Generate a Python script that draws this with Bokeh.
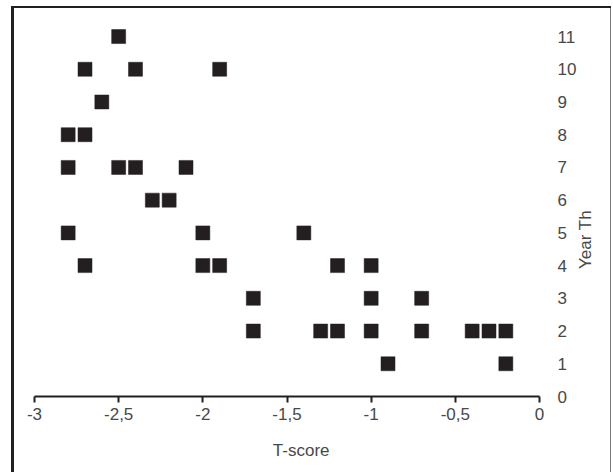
import math
from bokeh.plotting import figure
from bokeh.models import FixedTicker
from bokeh.embed import file_html
from bokeh.resources import INLINE

# Data
t_score = [-2.5, -2.7, -2.4, -1.9, -2.6, -2.8, -2.7, -2.8, -2.5, -2.4, -2.1,
           -2.3, -2.2, -2.8, -2.0, -1.4,
           -2.7, -2.0, -1.9, -1.7, -1.7,
           -1.2, -1.0, -1.0, -0.7, -1.3, -1.2, -1.0, -0.7, -0.4, -0.3, -0.2,
           -0.9, -0.2]
year_th = [11, 10, 10, 10, 9, 8, 8, 7, 7, 7, 7,
           6, 6, 5, 5, 5,
           4, 4, 4, 3, 2,
           4, 4, 3, 3, 2, 2, 2, 2, 2, 2, 2,
           1, 1]

x_ticks = [-3, -2.5, -2, -1.5, -1, -0.5, 0]
x_tick_labels = ["-3", "-2,5", "-2", "-1,5", "-1", "-0,5", "0"]
y_ticks = list(range(0, 12))
x_title = "T-score"
y_title = "Year Th"

FONT = "Liberation Sans"
TXT = "#484848"
INK = "#231f20"
NB = "\u00a0"

p = figure(width=611, height=472, output_backend="svg", toolbar_location=None,
           x_range=(-3, 0), y_range=(0, 11.49), y_axis_location="right",
           min_border_left=34, min_border_right=72, min_border_top=20,
           min_border_bottom=76,
           styles={"box-shadow": "inset 11px 0 0 0 #ffffff, inset 0 6px 0 0 #ffffff, "
                                 "inset 14px 0 0 0 #231f20, inset 0 8px 0 0 #231f20, "
                                 "inset -1px 0 0 0 #777777"})
p.border_fill_color = None
p.background_fill_color = None
p.outline_line_color = None
p.grid.visible = False

p.scatter(t_score, year_th, marker="square", size=14, fill_color=INK,
          line_color=INK, line_width=0.5)

xa = p.xaxis[0]
xa.ticker = FixedTicker(ticks=x_ticks)
xa.major_label_overrides = {t: l for t, l in zip(x_ticks, x_tick_labels)}
xa.axis_line_width = 2
xa.axis_line_color = INK
xa.major_tick_line_width = 2
xa.major_tick_line_color = INK
xa.major_tick_in = 0
xa.major_tick_out = 6
xa.minor_tick_line_color = None
xa.major_label_standoff = 5
xa.major_label_text_font = FONT
xa.major_label_text_font_size = "17px"
xa.major_label_text_color = TXT
xa.axis_label = NB * 6 + x_title
xa.axis_label_standoff = 18
xa.axis_label_text_font = FONT
xa.axis_label_text_font_size = "17px"
xa.axis_label_text_font_style = "normal"
xa.axis_label_text_color = TXT

ya = p.yaxis[0]
ya.ticker = FixedTicker(ticks=y_ticks)
ya.axis_line_color = None
ya.major_tick_line_color = None
ya.minor_tick_line_color = None
ya.major_label_standoff = 12
ya.major_label_text_font = FONT
ya.major_label_text_font_size = "17px"
ya.major_label_text_color = TXT
ya.axis_label = NB * 27 + y_title
ya.axis_label_orientation = math.pi / 2
ya.axis_label_align = "start"
ya.axis_label_standoff = 6
ya.axis_label_text_font = FONT
ya.axis_label_text_font_size = "17px"
ya.axis_label_text_font_style = "normal"
ya.axis_label_text_color = TXT

open("out.html", "w").write(file_html(p, INLINE))
